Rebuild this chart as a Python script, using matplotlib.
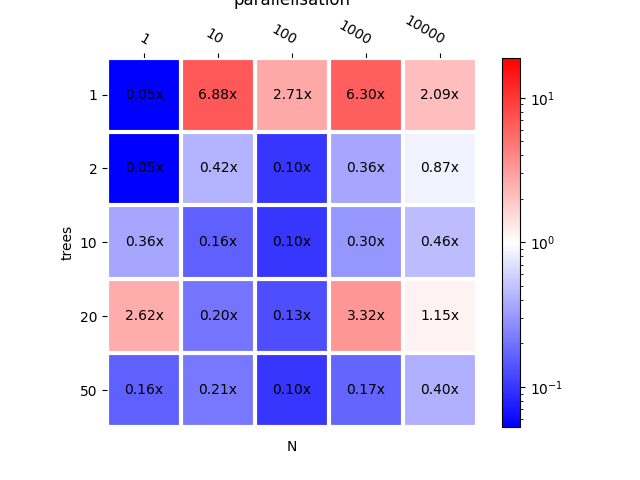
import numpy as np
import matplotlib
matplotlib.use("Agg")
import matplotlib.pyplot as plt
from matplotlib.colors import LogNorm

n_labels = ["1", "10", "100", "1000", "10000"]
tree_labels = ["1", "2", "10", "20", "50"]
speedup = np.array([
    [0.0527, 6.88, 2.71, 6.30, 2.09],
    [0.0527, 0.42, 0.10, 0.36, 0.87],
    [0.36, 0.16, 0.10, 0.30, 0.46],
    [2.62, 0.20, 0.13, 3.32, 1.15],
    [0.16, 0.21, 0.10, 0.17, 0.40],
])

fig, ax = plt.subplots(figsize=(6.4, 4.8), dpi=100)

vmin = speedup.min()
im = ax.imshow(speedup, cmap="bwr", norm=LogNorm(vmin=vmin, vmax=1 / vmin))
fig.colorbar(im, ax=ax)

ax.set_xticks(np.arange(len(n_labels)))
ax.set_xticklabels(n_labels)
ax.set_yticks(np.arange(len(tree_labels)))
ax.set_yticklabels(tree_labels)
ax.tick_params(top=True, bottom=False, labeltop=True, labelbottom=False)
plt.setp(ax.get_xticklabels(), rotation=-30, ha="right", rotation_mode="anchor")

for s in ax.spines.values():
    s.set_visible(False)
ax.set_xticks(np.arange(len(n_labels) + 1) - .5, minor=True)
ax.set_yticks(np.arange(len(tree_labels) + 1) - .5, minor=True)
ax.grid(which="minor", color="w", linestyle="-", linewidth=3)
ax.tick_params(which="minor", bottom=False, left=False, top=False)

for i in range(len(tree_labels)):
    for j in range(len(n_labels)):
        ax.text(j, i, "{:.2f}x".format(speedup[i, j]), ha="center", va="center", color="black")

ax.set_xlabel("N")
ax.set_ylabel("trees")
ax.set_title("parallelisation")

fig.savefig("out.png")
